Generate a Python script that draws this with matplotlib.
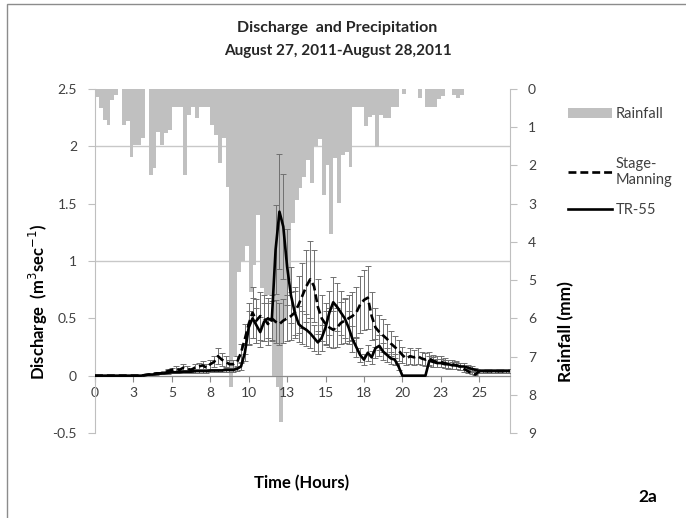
import numpy as np
import matplotlib
matplotlib.use('Agg')
import matplotlib.pyplot as plt
from matplotlib.patches import Rectangle

plt.rcParams['font.family'] = ['Lato', 'DejaVu Sans']

# rainfall, 15 min bins starting at 0 h (mm)
rain_mm = [0.2, 0.5, 0.8, 0.94, 0.29, 0.16, 0, 0.94, 0.85, 1.77,
           1.47, 1.47, 1.29, 0, 2.25, 2.08, 1.12, 1.47, 1.16, 1.07,
           0.46, 0.46, 0.46, 2.25, 0.68, 0.46, 0.77, 0.46, 0.46, 0.46,
           0.94, 1.2, 1.94, 1.29, 2.56, 7.8, 7.0, 4.8, 4.5, 4.1,
           5.3, 4.6, 3.3, 5.2, 5.4, 5.4, 7.5, 7.8, 8.7, 6.0,
           5.0, 3.5, 2.9, 2.6, 2.3, 1.85, 2.45, 1.5, 1.3, 2.78,
           2.0, 3.8, 1.8, 2.98, 1.72, 1.64, 2.05, 0.46, 0.46, 0.46,
           0.96, 0.74, 0.68, 1.52, 0.68, 0.77, 0.77, 0.46, 0.46, 0,
           0.14, 0, 0, 0, 0.24, 0, 0.46, 0.46, 0.46, 0.26,
           0.18, 0, 0, 0.15, 0.24, 0.15]
rain_t = np.arange(len(rain_mm)) * 0.25

# discharge, every 15 min (m3/s)
stage_manning = [0, 0, 0, 0, 0, 0, 0, 0, 0, 0, 0, 0, 0,
                 0.005, 0.01, 0.01, 0.02, 0.02, 0.03, 0.04, 0.05,
                 0.06, 0.05, 0.07, 0.06, 0.05, 0.07, 0.08, 0.09, 0.07, 0.1,
                 0.12, 0.17, 0.14, 0.12, 0.1, 0.1, 0.12, 0.2, 0.32, 0.45,
                 0.55, 0.48, 0.52, 0.5, 0.45, 0.5, 0.47, 0.45, 0.48, 0.5,
                 0.52, 0.55, 0.62, 0.7, 0.78, 0.84, 0.78, 0.6, 0.5, 0.45,
                 0.42, 0.4, 0.42, 0.46, 0.48, 0.5, 0.52, 0.55, 0.62, 0.66,
                 0.68, 0.52, 0.42, 0.38, 0.35, 0.32, 0.28, 0.25, 0.22, 0.18,
                 0.15, 0.17, 0.16, 0.17, 0.15, 0.14, 0.15, 0.13, 0.12, 0.12,
                 0.11, 0.1, 0.1, 0.09, 0.08, 0.06, 0.04, 0.02, 0.01, 0.04,
                 0.04, 0.04, 0.04, 0.04, 0.04, 0.04, 0.04, 0.04]
tr55 = [0, 0, 0, 0, 0, 0, 0, 0, 0, 0, 0, 0, 0,
        0.005, 0.01, 0.01, 0.015, 0.02, 0.02, 0.025, 0.03,
        0.03, 0.03, 0.035, 0.035, 0.035, 0.04, 0.04, 0.04, 0.04, 0.045,
        0.045, 0.045, 0.045, 0.05, 0.05, 0.05, 0.06, 0.08, 0.2, 0.42,
        0.5, 0.44, 0.38, 0.47, 0.5, 0.48, 1.1, 1.43, 1.3, 0.95,
        0.7, 0.55, 0.45, 0.42, 0.4, 0.37, 0.33, 0.29, 0.33, 0.42,
        0.55, 0.64, 0.6, 0.55, 0.5, 0.42, 0.32, 0.25, 0.18, 0.14,
        0.2, 0.16, 0.24, 0.26, 0.21, 0.18, 0.15, 0.14, 0.08, 0,
        0, 0, 0, 0, 0, 0, 0.13, 0.12, 0.11, 0.11,
        0.1, 0.1, 0.09, 0.09, 0.08, 0.08, 0.07, 0.06, 0.05, 0.04,
        0.04, 0.04, 0.04, 0.04, 0.04, 0.04, 0.04, 0.04]
q_t = np.arange(len(tr55)) * 0.25
sm_err = 0.4
tr_err = 0.35

x_ticks = np.arange(0, 25.1, 2.5)
x_labels = ['0', '3', '5', '8', '10', '13', '15', '18', '20', '23', '25']
q_ticks = [-0.5, 0, 0.5, 1, 1.5, 2, 2.5]
q_labels = ['-0.5', '0', '0.5', '1', '1.5', '2', '2.5']

txt = '#404040'
axc = '#bfbfbf'

fig = plt.figure(figsize=(6.86, 5.18), dpi=100)
ax_rain = fig.add_axes([0.1385, 0.1641, 0.6049, 0.6641])
ax_q = ax_rain.twinx()

# rainfall hanging from the top
ax_rain.bar(rain_t, rain_mm, width=0.25, align='edge', color='#c0c0c0',
            linewidth=0, zorder=2, label='Rainfall')
ax_rain.set_ylim(9, 0)
ax_rain.set_xlim(0, 27)
ax_rain.yaxis.tick_right()
ax_rain.set_yticks(range(10))
ax_rain.set_yticks(np.arange(0, 9.1, 1.5), minor=True)
ax_rain.tick_params(axis='y', which='major', direction='out', length=5,
                    color=axc, labelcolor=txt, labelsize=10, pad=8)
ax_rain.tick_params(axis='y', which='minor', length=0)
ax_rain.tick_params(axis='x', bottom=False, labelbottom=False)
ax_rain.grid(which='minor', axis='y', color='#c8c8c8', lw=1)
ax_rain.set_axisbelow(True)
for s in ['left', 'top', 'bottom']:
    ax_rain.spines[s].set_visible(False)
ax_rain.spines['right'].set_color(axc)

# discharge
ax_q.errorbar(q_t, stage_manning, yerr=np.array(stage_manning) * sm_err,
              fmt='none', ecolor='#707070', elinewidth=0.7, capsize=2.2,
              capthick=0.7, zorder=3)
ax_q.errorbar(q_t, tr55, yerr=np.array(tr55) * tr_err, fmt='none',
              ecolor='#707070', elinewidth=0.7, capsize=2.2,
              capthick=0.7, zorder=3)
l_sm, = ax_q.plot(q_t, stage_manning, color='black', lw=1.9, ls=(0, (3, 1.5)),
                  zorder=4)
l_tr, = ax_q.plot(q_t, tr55, color='black', lw=1.9, zorder=5)

ax_q.set_ylim(-0.5, 2.5)
ax_q.set_xlim(0, 27)
ax_q.yaxis.tick_left()
ax_q.set_yticks(q_ticks)
ax_q.set_yticklabels(q_labels)
ax_q.tick_params(axis='y', direction='out', length=5, color=axc,
                 labelcolor=txt, labelsize=10, pad=8)
ax_q.xaxis.set_visible(True)
ax_q.spines['bottom'].set_position(('data', 0))
ax_q.spines['bottom'].set_color('#8c8c8c')
ax_q.spines['left'].set_color(axc)
ax_q.spines['top'].set_visible(False)
ax_q.spines['right'].set_visible(False)
ax_q.set_xticks(x_ticks)
ax_q.set_xticklabels(x_labels)
ax_q.tick_params(axis='x', direction='out', length=4, color='#8c8c8c',
                 labelcolor=txt, labelsize=10, pad=4)

# texts
fig.text(0.492, 1 - 28 / 518, 'Discharge  and Precipitation', ha='center',
         va='center', fontsize=11.5, fontweight='bold', color='#262626')
fig.text(0.492, 1 - 51 / 518, 'August 27, 2011-August 28,2011', ha='center',
         va='center', fontsize=11, fontweight='bold', color='#262626')
fig.text(38 / 686, 1 - 302 / 518, 'Discharge  (m$^3$sec$^{-1}$)', rotation=90,
         ha='center', va='center', fontsize=12, fontweight='bold')
fig.text(566 / 686, 1 - 332 / 518, 'Rainfall (mm)', rotation=90,
         ha='center', va='center', fontsize=12.5, fontweight='bold')
fig.text(302 / 686, 1 - 483 / 518, 'Time (Hours)', ha='center', va='center',
         fontsize=12, fontweight='bold')
fig.text(648 / 686, 1 - 497 / 518, '2a', ha='center', va='center',
         fontsize=12.5, fontweight='bold')

bars = ax_rain.containers[0]
fig.legend([bars], ['Rainfall'], loc='center left',
           bbox_to_anchor=(562 / 686, 1 - 114 / 518), borderaxespad=0,
           frameon=False, fontsize=10.5, handlelength=3, handletextpad=0.3,
           labelcolor=txt)
fig.legend([l_sm, l_tr], ['Stage-\nManning', 'TR-55'], loc='center left',
           bbox_to_anchor=(562 / 686, 1 - 187 / 518), borderaxespad=0,
           frameon=False, fontsize=10.5, handlelength=3, handletextpad=0.3,
           labelspacing=1.1, labelcolor=txt)

fig.add_artist(Rectangle((7 / 686, -0.1), 1.2, 1.1 - 4 / 518,
                         transform=fig.transFigure, fill=False,
                         edgecolor='#8c8c8c', lw=1))

fig.savefig('out.png', dpi=100)
